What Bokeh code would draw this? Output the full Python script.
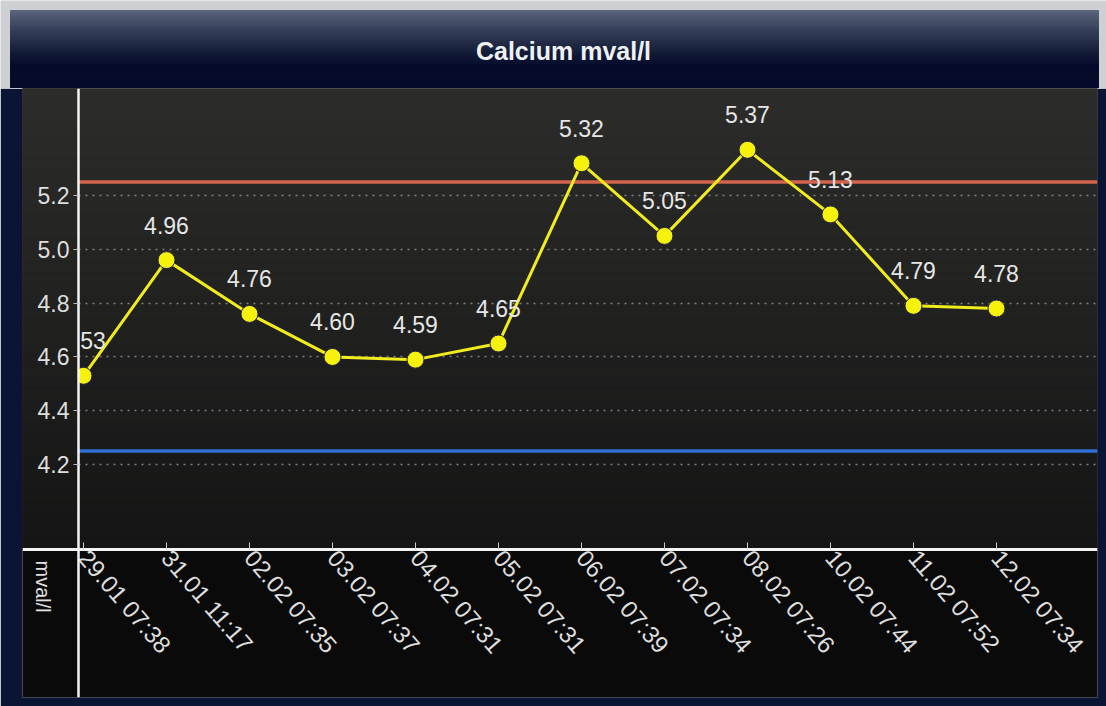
import numpy as np
from bokeh.plotting import figure
from bokeh.models import Range1d, FixedTicker, Label, ColumnDataSource, PrintfTickFormatter
from bokeh.layouts import column
from bokeh.embed import file_html
from bokeh.resources import INLINE
from bokeh.core.properties import value

# ---- data ----
dates = ["29.01 07:38", "31.01 11:17", "02.02 07:35", "03.02 07:37", "04.02 07:31",
         "05.02 07:31", "06.02 07:39", "07.02 07:34", "08.02 07:26", "10.02 07:44",
         "11.02 07:52", "12.02 07:34"]
calcium = [4.53, 4.96, 4.76, 4.60, 4.59, 4.65, 5.32, 5.05, 5.37, 5.13, 4.79, 4.78]
y_ticks = [4.2, 4.4, 4.6, 4.8, 5.0, 5.2]
upper_limit = 5.25
lower_limit = 4.25
title_text = "Calcium mval/l"
unit_text = "mval/l"

FONT = "Liberation Sans"


def lerp_colors(c0, c1, n, gamma=1.0, knee=1.0):
    out = []
    c0 = np.array(c0, float)
    c1 = np.array(c1, float)
    for i in range(n):
        t = min(1.0, (i + 0.5) / n / knee) ** gamma
        c = (c0 * (1 - t) + c1 * t).round().astype(int)
        out.append("#%02x%02x%02x" % tuple(c))
    return out


# ---- header with gradient ----
HW, HH = 1106, 88
hdr = figure(width=HW, height=HH, output_backend="svg", toolbar_location=None,
             x_range=Range1d(0, HW), y_range=Range1d(0, HH),
             x_axis_location=None, y_axis_location=None, min_border=0,
             outline_line_color=None, border_fill_color="#cfd0d3",
             background_fill_color="#cfd0d3", frame_align=False)
hdr.grid.visible = False
n = 40
hy = np.linspace(HH - 10, 0, n + 1)
hcols = lerp_colors((0x5e, 0x6a, 0x80), (0x05, 0x0c, 0x2a), n, gamma=0.8, knee=0.7)
hdr.quad(left=10, right=HW - 8, top=hy[:-1], bottom=hy[1:], fill_color=hcols,
         line_color=hcols, line_width=1)
hdr.add_layout(Label(x=563, y=HH - 50, x_units="screen", y_units="screen", text=title_text,
                     text_align="center", text_baseline="middle", text_color="#eef0f4",
                     text_font=FONT, text_font_size="25px", text_font_style="bold"))

# ---- main chart ----
x = list(range(len(dates)))
src = ColumnDataSource(dict(x=x, y=calcium, lbl=["%.2f" % v for v in calcium]))

X0, X1 = -0.735, 12.217
Y0, Y1 = 3.334, 5.598
AXIS_X = -0.06
AXIS_Y = 3.884

p = figure(width=1106, height=618, output_backend="svg", toolbar_location=None,
           x_range=Range1d(X0, X1), y_range=Range1d(Y0, Y1),
           min_border_left=22, min_border_right=9, min_border_top=0, min_border_bottom=9,
           background_fill_color="#0a0a0a", border_fill_color="#0a1434",
           outline_line_color=None, frame_align=False)

# background gradient (plot area above x-axis)
ys = np.linspace(Y1, AXIS_Y, n + 1)
bcols = lerp_colors((0x2c, 0x2c, 0x2a), (0x15, 0x15, 0x15), n)
p.quad(left=X0, right=X1, top=ys[:-1], bottom=ys[1:], fill_color=bcols,
       line_color=bcols, line_width=1, level="underlay")

p.xgrid.visible = False
p.ygrid.ticker = FixedTicker(ticks=y_ticks)
p.ygrid.grid_line_color = "#a0a0a0"
p.ygrid.grid_line_alpha = 0.75
p.ygrid.grid_line_dash = "2 5"
p.ygrid.grid_line_width = 1.5

p.yaxis.fixed_location = AXIS_X
p.yaxis.ticker = FixedTicker(ticks=y_ticks)
p.yaxis.formatter = PrintfTickFormatter(format="%.1f")
p.yaxis.axis_line_color = "#f4f4f4"
p.yaxis.axis_line_width = 2.5
p.yaxis.major_tick_out = 5
p.yaxis.major_tick_in = 0
p.yaxis.major_tick_line_color = "#bbbbbb"
p.yaxis.minor_tick_line_color = None
p.yaxis.major_label_standoff = 4
p.yaxis.major_label_text_color = "#dedede"
p.yaxis.major_label_text_font = FONT
p.yaxis.major_label_text_font_size = "23px"

p.xaxis.fixed_location = AXIS_Y
p.xaxis.ticker = FixedTicker(ticks=x)
p.xaxis.major_label_overrides = {i: d for i, d in zip(x, dates)}
p.xaxis.major_label_orientation = -0.86
p.xaxis.axis_line_color = "#f4f4f4"
p.xaxis.axis_line_width = 3
p.xaxis.major_tick_in = 7
p.xaxis.major_tick_out = 0
p.xaxis.major_tick_line_color = "#cccccc"
p.xaxis.minor_tick_line_color = None
p.xaxis.major_label_standoff = 4
p.xaxis.major_label_text_color = "#dedede"
p.xaxis.major_label_text_font = FONT
p.xaxis.major_label_text_font_size = "24px"

# reference limits
p.segment(x0=[AXIS_X, AXIS_X], x1=[X1, X1], y0=[upper_limit, lower_limit],
          y1=[upper_limit, lower_limit], line_color=["#d4644e", "#2f6fd4"], line_width=3.5)

p.line("x", "y", source=src, line_color="#f0ec1e", line_width=3)
p.scatter("x", "y", source=src, size=17, fill_color="#f7f20c", line_color="#24244a", line_width=1)
p.text("x", "y", text="lbl", source=src, y_offset=-35, text_align="center",
       text_baseline="middle", text_color="#e6e6e6", text_font=value(FONT),
       text_font_size="23px")

# mask left of the y-axis (plot area is clipped at the axis)
p.quad(left=X0, right=AXIS_X, top=ys[:-1], bottom=ys[1:], fill_color=bcols,
       line_color=bcols, line_width=1)

p.add_layout(Label(x=20, y=137, x_units="screen", y_units="screen", text=unit_text,
                   angle=-np.pi / 2, text_align="left", text_baseline="middle",
                   text_color="#e0e0e0", text_font=FONT, text_font_size="20px"))

layout = column(hdr, p, spacing=0)
open("out.html", "w").write(file_html(layout, INLINE))
